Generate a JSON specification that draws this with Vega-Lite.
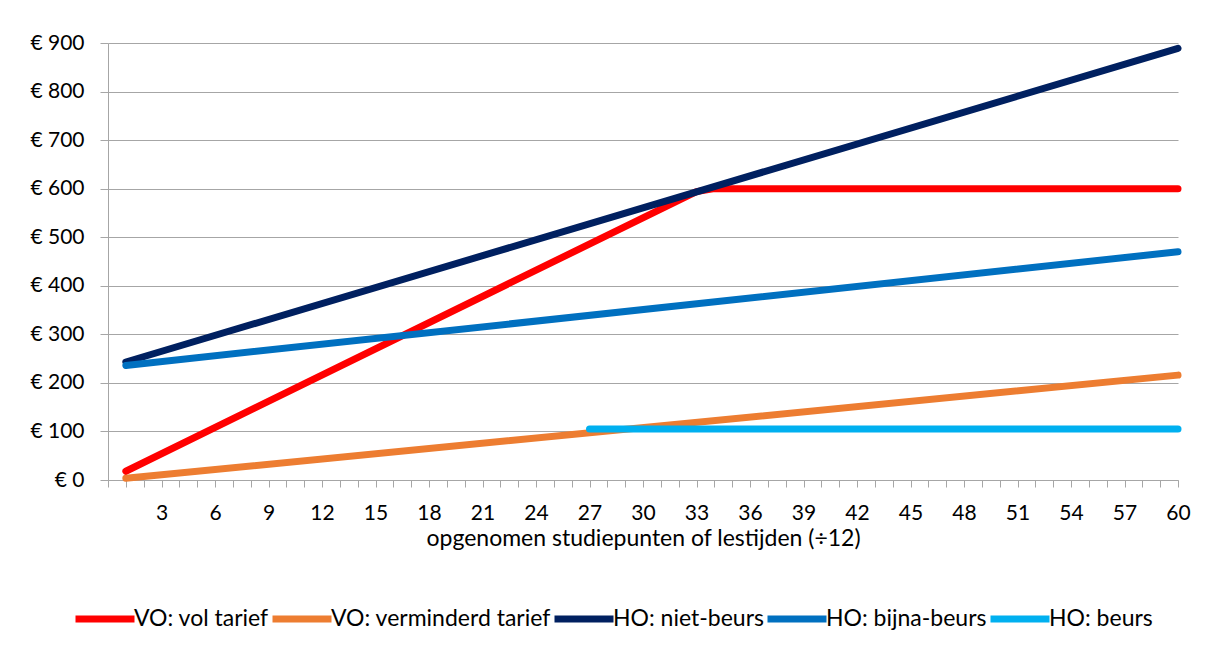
{
  "$schema": "https://vega.github.io/schema/vega-lite/v6.json",
  "width": 1070,
  "height": 437,
  "autosize": "none",
  "padding": {"left": 108, "top": 43, "right": 31, "bottom": 170},
  "background": "white",
  "config": {
    "view": {"stroke": null},
    "font": "Lato",
    "axis": {"labelColor": "#000000", "titleColor": "#000000", "labelFont": "Lato", "titleFont": "Lato", "titleFontWeight": "normal"},
    "legend": {"labelFont": "Lato"}
  },
  "data": {
    "values": [
      {"serie": "VO: vol tarief", "x": 1, "bedrag": 18},
      {"serie": "VO: vol tarief", "x": 33, "bedrag": 594},
      {"serie": "VO: vol tarief", "x": 34, "bedrag": 600},
      {"serie": "VO: vol tarief", "x": 60, "bedrag": 600},
      {"serie": "VO: verminderd tarief", "x": 1, "bedrag": 3.6},
      {"serie": "VO: verminderd tarief", "x": 60, "bedrag": 216},
      {"serie": "HO: niet-beurs", "x": 1, "bedrag": 243},
      {"serie": "HO: niet-beurs", "x": 60, "bedrag": 889},
      {"serie": "HO: bijna-beurs", "x": 1, "bedrag": 236},
      {"serie": "HO: bijna-beurs", "x": 60, "bedrag": 470},
      {"serie": "HO: beurs", "x": 27, "bedrag": 105},
      {"serie": "HO: beurs", "x": 60, "bedrag": 105}
    ]
  },
  "mark": {"type": "line", "strokeWidth": 7, "strokeCap": "round", "strokeJoin": "round"},
  "encoding": {
    "x": {
      "field": "x",
      "type": "quantitative",
      "scale": {"domain": [0, 60], "nice": false, "zero": false},
      "axis": {
        "values": [0,1,2,3,4,5,6,7,8,9,10,11,12,13,14,15,16,17,18,19,20,21,22,23,24,25,26,27,28,29,30,31,32,33,34,35,36,37,38,39,40,41,42,43,44,45,46,47,48,49,50,51,52,53,54,55,56,57,58,59,60],
        "labelExpr": "datum.value % 3 == 0 && datum.value > 0 ? datum.value : ''",
        "labelOverlap": false,
        "labelFlush": false,
        "grid": false,
        "domainColor": "#A6A6A6",
        "tickColor": "#A6A6A6",
        "tickSize": 7,
        "labelPadding": 15,
        "labelFontSize": 21,
        "title": "opgenomen studiepunten of lestijden (÷12)",
        "titleFontSize": 23,
        "titlePadding": 4
      }
    },
    "y": {
      "field": "bedrag",
      "type": "quantitative",
      "scale": {"domain": [0, 900], "nice": false},
      "axis": {
        "values": [0,100,200,300,400,500,600,700,800,900],
        "labelExpr": "'€ ' + datum.value",
        "grid": true,
        "gridColor": "#A6A6A6",
        "domainColor": "#A6A6A6",
        "tickColor": "#A6A6A6",
        "tickSize": 8,
        "labelPadding": 16,
        "labelFontSize": 21,
        "title": null
      }
    },
    "color": {
      "field": "serie",
      "type": "nominal",
      "scale": {
        "domain": ["VO: vol tarief", "VO: verminderd tarief", "HO: niet-beurs", "HO: bijna-beurs", "HO: beurs"],
        "range": ["#FF0000", "#ED7D31", "#002060", "#0070C0", "#00B0F0"]
      },
      "legend": {
        "title": null,
        "orient": "none",
        "legendX": -36,
        "legendY": 543,
        "direction": "horizontal",
        "symbolType": "stroke",
        "symbolSize": 3481,
        "symbolStrokeWidth": 7,
        "labelFontSize": 23,
        "labelLimit": 400,
        "labelOffset": -4,
        "columnPadding": -11,
        "labelColor": "#000000"
      }
    }
  }
}
